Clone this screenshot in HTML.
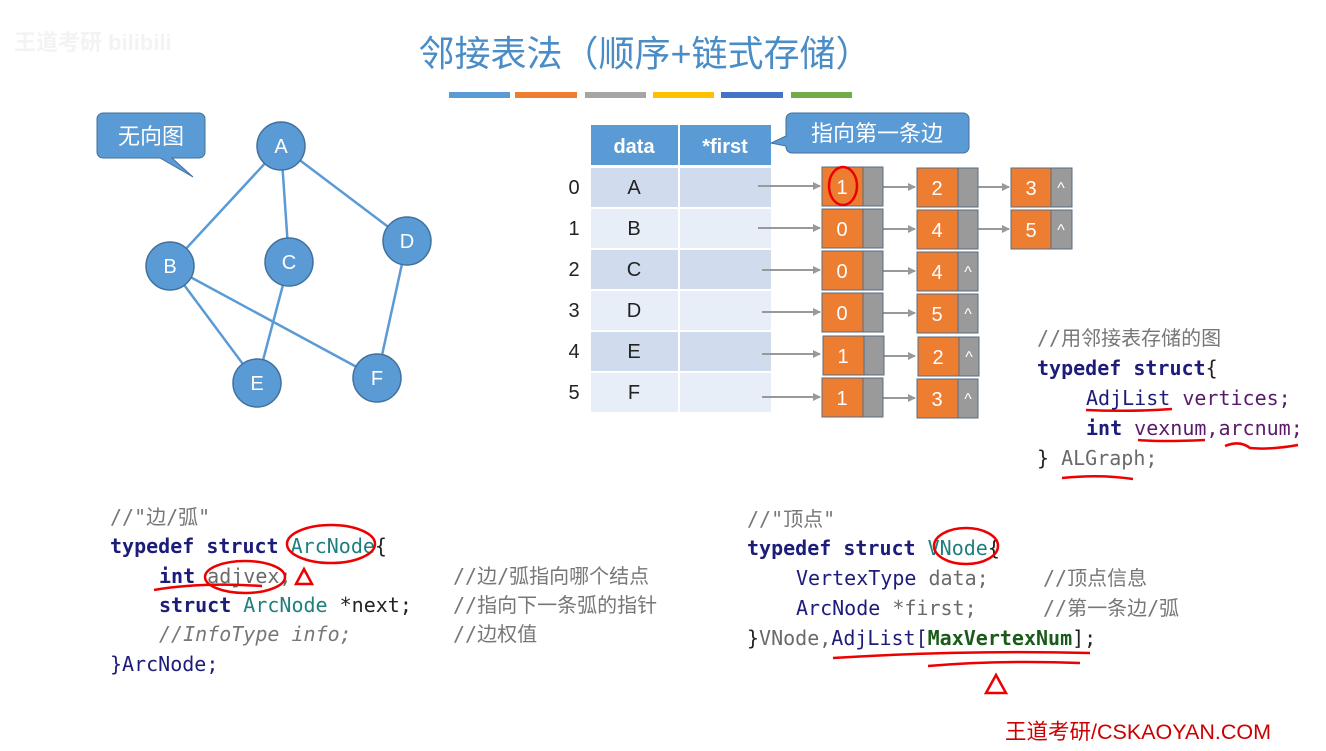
<!DOCTYPE html>
<html><head><meta charset="utf-8"><style>
body{margin:0;background:#fff;}
svg{display:block}
.m{font-family:"DejaVu Sans Mono","Liberation Mono","Noto Sans CJK SC",monospace;font-size:20px}
.k{fill:#1c1c7a;font-weight:bold}
.t{fill:#1f7f7f}
.v{fill:#6a6a6a}
.c{fill:#777}
.s{font-family:"Liberation Sans","Noto Sans CJK SC",sans-serif}
</style></head><body>
<svg width="1326" height="751" viewBox="0 0 1326 751">
<defs><marker id="ar" markerWidth="8" markerHeight="8" refX="7" refY="4" orient="auto" markerUnits="userSpaceOnUse"><path d="M0,0 L8,4 L0,8z" fill="#999"/></marker></defs>
<text x="14" y="50" class="s" font-size="22" fill="#f3f3f3" font-weight="bold">王道考研 bilibili</text>
<text x="645" y="66" text-anchor="middle" class="s" font-size="36" fill="#4a8cc6">邻接表法（顺序+链式存储）</text>
<rect x="449" y="92" width="61" height="6" fill="#5b9bd5"/><rect x="515" y="92" width="62" height="6" fill="#ed7d31"/><rect x="585" y="92" width="61" height="6" fill="#a5a5a5"/><rect x="653" y="92" width="61" height="6" fill="#ffc000"/><rect x="721" y="92" width="62" height="6" fill="#4472c4"/><rect x="791" y="92" width="61" height="6" fill="#70ad47"/>
<g stroke="#5b9bd5" stroke-width="2.5">
<line x1="281" y1="146" x2="170" y2="266"/><line x1="281" y1="146" x2="289" y2="262"/><line x1="281" y1="146" x2="407" y2="241"/><line x1="170" y1="266" x2="257" y2="383"/><line x1="170" y1="266" x2="377" y2="378"/><line x1="289" y1="262" x2="257" y2="383"/><line x1="407" y1="241" x2="377" y2="378"/></g>
<g fill="#5b9bd5" stroke="#41719c" stroke-width="1.5">
<circle cx="281" cy="146" r="24"/><circle cx="170" cy="266" r="24"/><circle cx="289" cy="262" r="24"/><circle cx="407" cy="241" r="24"/><circle cx="257" cy="383" r="24"/><circle cx="377" cy="378" r="24"/></g>
<g class="s" font-size="20" fill="#fff" text-anchor="middle">
<text x="281" y="153">A</text><text x="170" y="273">B</text><text x="289" y="269">C</text><text x="407" y="248">D</text><text x="257" y="390">E</text><text x="377" y="385">F</text></g>
<path d="M103,113 H199 a6,6 0 0 1 6,6 V152 a6,6 0 0 1 -6,6 H172 L193,177 L160,158 H103 a6,6 0 0 1 -6,-6 V119 a6,6 0 0 1 6,-6z" fill="#5b9bd5" stroke="#41719c"/>
<text x="151" y="144" text-anchor="middle" class="s" font-size="22" fill="#fff">无向图</text>
<rect x="591" y="125" width="87" height="40" fill="#5b9bd5"/><rect x="680" y="125" width="91" height="40" fill="#5b9bd5"/>
<text x="634" y="153" text-anchor="middle" class="s" font-size="20" font-weight="bold" fill="#fff">data</text>
<text x="725" y="153" text-anchor="middle" class="s" font-size="20" font-weight="bold" fill="#fff">*first</text>
<g fill="#d0dcee"><rect x="591" y="168" width="87" height="39"/><rect x="680" y="168" width="91" height="39"/><rect x="591" y="250" width="87" height="39"/><rect x="680" y="250" width="91" height="39"/><rect x="591" y="332" width="87" height="39"/><rect x="680" y="332" width="91" height="39"/></g>
<g fill="#e8eef7"><rect x="591" y="209" width="87" height="39"/><rect x="680" y="209" width="91" height="39"/><rect x="591" y="291" width="87" height="39"/><rect x="680" y="291" width="91" height="39"/><rect x="591" y="373" width="87" height="39"/><rect x="680" y="373" width="91" height="39"/></g>
<g class="s" font-size="20" fill="#222" text-anchor="middle">
<text x="574" y="194">0</text><text x="634" y="194">A</text>
<text x="574" y="235">1</text><text x="634" y="235">B</text>
<text x="574" y="276">2</text><text x="634" y="276">C</text>
<text x="574" y="317">3</text><text x="634" y="317">D</text>
<text x="574" y="358">4</text><text x="634" y="358">E</text>
<text x="574" y="399">5</text><text x="634" y="399">F</text></g>
<path d="M792,113 H963 a6,6 0 0 1 6,6 V147 a6,6 0 0 1 -6,6 H792 a6,6 0 0 1 -6,-6 V146 L771,143 L786,136 V119 a6,6 0 0 1 6,-6z" fill="#5b9bd5" stroke="#41719c"/>
<text x="877" y="141" text-anchor="middle" class="s" font-size="22" fill="#fff">指向第一条边</text>
<g stroke="#999" stroke-width="2" marker-end="url(#ar)">
<line x1="758" y1="186" x2="820" y2="186"/><line x1="883" y1="187" x2="915" y2="187"/><line x1="978" y1="187" x2="1009" y2="187"/>
<line x1="758" y1="228" x2="820" y2="228"/><line x1="883" y1="229" x2="915" y2="229"/><line x1="978" y1="229" x2="1009" y2="229"/>
<line x1="762" y1="270" x2="820" y2="270"/><line x1="883" y1="271" x2="915" y2="271"/>
<line x1="762" y1="312" x2="820" y2="312"/><line x1="883" y1="313" x2="915" y2="313"/>
<line x1="762" y1="354" x2="820" y2="354"/><line x1="883" y1="356" x2="915" y2="356"/>
<line x1="762" y1="397" x2="820" y2="397"/><line x1="883" y1="398" x2="915" y2="398"/></g>
<g stroke="#5a6b80" stroke-width="1">
<g fill="#ed7d31"><rect x="822" y="167" width="41" height="39"/><rect x="917" y="168" width="41" height="39"/><rect x="1011" y="168" width="40" height="39"/>
<rect x="822" y="209" width="41" height="39"/><rect x="917" y="210" width="41" height="39"/><rect x="1011" y="210" width="40" height="39"/>
<rect x="822" y="251" width="41" height="39"/><rect x="917" y="252" width="41" height="39"/>
<rect x="822" y="293" width="41" height="39"/><rect x="917" y="294" width="41" height="39"/>
<rect x="823" y="336" width="41" height="39"/><rect x="918" y="337" width="41" height="39"/>
<rect x="822" y="378" width="41" height="39"/><rect x="917" y="379" width="41" height="39"/></g>
<g fill="#9a9a9a"><rect x="863" y="167" width="20" height="39"/><rect x="958" y="168" width="20" height="39"/><rect x="1051" y="168" width="21" height="39"/>
<rect x="863" y="209" width="20" height="39"/><rect x="958" y="210" width="20" height="39"/><rect x="1051" y="210" width="21" height="39"/>
<rect x="863" y="251" width="20" height="39"/><rect x="958" y="252" width="20" height="39"/>
<rect x="863" y="293" width="20" height="39"/><rect x="958" y="294" width="20" height="39"/>
<rect x="864" y="336" width="20" height="39"/><rect x="959" y="337" width="20" height="39"/>
<rect x="863" y="378" width="20" height="39"/><rect x="958" y="379" width="20" height="39"/></g></g>
<g class="s" font-size="20" fill="#fff" text-anchor="middle">
<text x="842" y="194">1</text><text x="937" y="195">2</text><text x="1031" y="195">3</text>
<text x="842" y="236">0</text><text x="937" y="237">4</text><text x="1031" y="237">5</text>
<text x="842" y="278">0</text><text x="937" y="279">4</text>
<text x="842" y="320">0</text><text x="937" y="321">5</text>
<text x="843" y="363">1</text><text x="938" y="364">2</text>
<text x="842" y="405">1</text><text x="937" y="406">3</text>
<g font-size="16"><text x="1061" y="193">^</text><text x="1061" y="235">^</text><text x="968" y="277">^</text><text x="968" y="319">^</text><text x="969" y="362">^</text><text x="968" y="404">^</text></g></g>
<ellipse cx="843" cy="186" rx="14" ry="19" fill="none" stroke="#e00" stroke-width="2.5"/>
<g class="m">
<text x="1037" y="345" class="c">//用邻接表存储的图</text>
<text x="1037" y="375"><tspan class="k">typedef struct</tspan><tspan fill="#222">{</tspan></text>
<text x="1086" y="405"><tspan fill="#1c1c7a">AdjList</tspan><tspan fill="#5a1a6a"> vertices;</tspan></text>
<text x="1086" y="435"><tspan class="k">int</tspan><tspan fill="#5a1a6a"> vexnum,arcnum;</tspan></text>
<text x="1037" y="465"><tspan fill="#222">} </tspan><tspan class="v">ALGraph;</tspan></text>
<text x="110" y="524" class="c">//"边/弧"</text>
<text x="110" y="553"><tspan class="k">typedef struct </tspan><tspan class="t">ArcNode</tspan><tspan fill="#222">{</tspan></text>
<text x="159" y="583"><tspan class="k">int </tspan><tspan class="v">adjvex;</tspan></text>
<text x="159" y="612"><tspan class="k">struct </tspan><tspan class="t">ArcNode </tspan><tspan fill="#222">*next;</tspan></text>
<text x="159" y="641" class="c" font-style="italic">//InfoType info;</text>
<text x="453" y="583" class="c">//边/弧指向哪个结点</text>
<text x="453" y="612" class="c">//指向下一条弧的指针</text>
<text x="453" y="641" class="c">//边权值</text>
<text x="110" y="671" fill="#1c1c7a">}ArcNode;</text>
<text x="747" y="526" class="c">//"顶点"</text>
<text x="747" y="555"><tspan class="k">typedef struct </tspan><tspan class="t">VNode</tspan><tspan fill="#222">{</tspan></text>
<text x="796" y="585"><tspan fill="#1c1c7a">VertexType </tspan><tspan class="v">data;</tspan></text>
<text x="796" y="615"><tspan fill="#1c1c7a">ArcNode </tspan><tspan class="v">*first;</tspan></text>
<text x="1043" y="585" class="c">//顶点信息</text>
<text x="1043" y="615" class="c">//第一条边/弧</text>
<text x="747" y="645"><tspan fill="#222">}</tspan><tspan class="v">VNode,</tspan><tspan fill="#1c1c7a">AdjList[</tspan><tspan fill="#1a5a1a" font-weight="bold">MaxVertexNum</tspan><tspan fill="#222">];</tspan></text>
</g>
<g fill="none" stroke="#e00" stroke-width="2.5">
<ellipse cx="331" cy="544" rx="44" ry="19"/>
<ellipse cx="245" cy="577" rx="40" ry="16"/>
<path d="M154,590 Q200,582 262,586"/>
<path d="M296,584 L304,569 L312,584z"/>
<ellipse cx="966" cy="546" rx="32" ry="18"/>
<path d="M833,658 Q960,650 1090,653"/><path d="M928,666 Q1000,660 1080,663"/>
<path d="M986,693 L996,675 L1006,693z"/>
<path d="M1086,410 Q1130,412 1172,409"/><path d="M1138,440 Q1160,442 1205,440"/><path d="M1225,446 Q1240,440 1250,448 Q1270,450 1298,445"/>
<path d="M1062,478 Q1100,474 1133,479"/>
</g>
<text x="1005" y="739" class="s" font-size="21.5" fill="#c00">王道考研/CSKAOYAN.COM</text>
</svg>
</body></html>
